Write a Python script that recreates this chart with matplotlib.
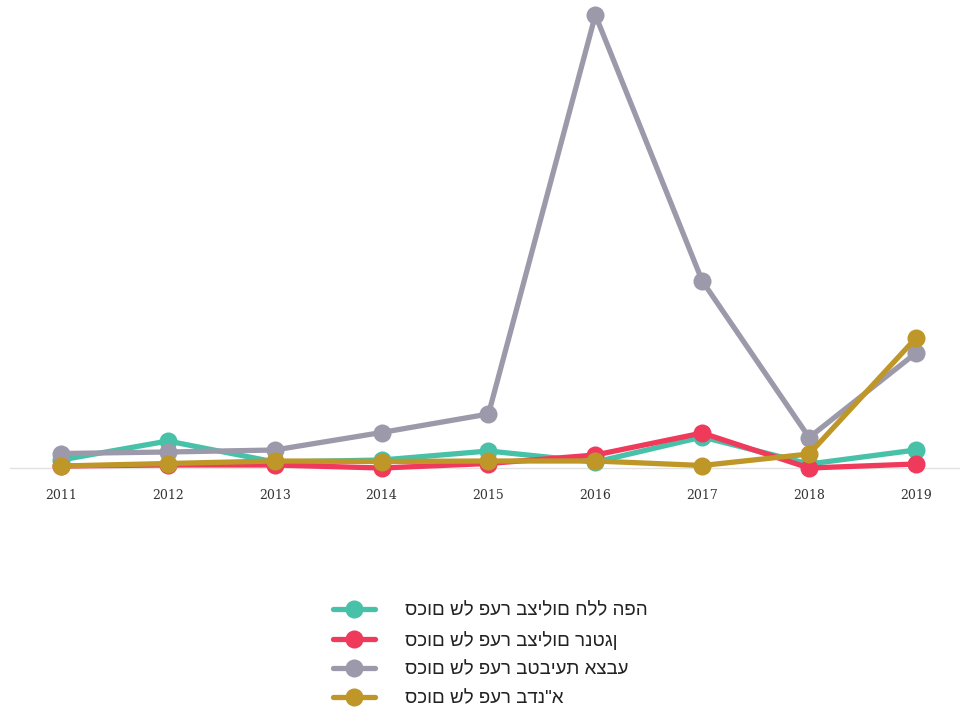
import matplotlib
matplotlib.use("Agg")
from matplotlib import pyplot as plt

years = [2011, 2012, 2013, 2014, 2015, 2016, 2017, 2018, 2019]

# gap sums per series (arbitrary units - no y axis shown)
oral_cavity_xray = [8, 27, 6, 8, 17, 6, 31, 4, 18]
xray = [2, 3, 3, 0, 4.5, 13, 35, 0, 4]
fingerprint = [14.5, 16, 18, 35.5, 54, 453, 187, 30.5, 115]
dna = [2, 4.5, 7, 6.5, 7, 7, 2.5, 14, 130]

labels = [
    "סכום של פער בצילום חלל הפה",
    "סכום של פער בצילום רנטגן",
    "סכום של פער בטביעת אצבע",
    "סכום של פער בדנ\"א",
]
colors = ["#47C2A9", "#F03A5C", "#9C9AAA", "#BF9628"]

fig = plt.figure(figsize=(9.6, 7.08), dpi=100)
ax = fig.add_axes([10 / 960, 240 / 708, 950 / 960, 468 / 708])

series = [oral_cavity_xray, xray, fingerprint, dna]
for vals, label, color in zip(series, labels, colors):
    ax.plot(
        years, vals, color=color, linewidth=3.8, marker="o", markersize=13,
        markeredgewidth=0, label=label, clip_on=False, solid_capstyle="round",
    )

ax.set_xlim(2011 - 51 / 106.9, 2019 + 44 / 106.9)
ax.set_ylim(0, 468)
ax.set_xticks(years)
ax.set_xticklabels([str(y) for y in years], fontsize=9, color="#333333",
                   family="DejaVu Serif")
ax.tick_params(axis="x", length=0, pad=15)
ax.set_yticks([])
for side in ["top", "left", "right"]:
    ax.spines[side].set_visible(False)
ax.spines["bottom"].set_color("#e2e2e2")
ax.spines["bottom"].set_linewidth(1)
ax.spines["bottom"].set_zorder(0)

leg = fig.legend(
    loc="upper left", bbox_to_anchor=(333 / 960, 1 - 602 / 708),
    frameon=False, numpoints=1, handlelength=2.25, handletextpad=1.6,
    labelspacing=0.62, borderpad=0, borderaxespad=0,
    prop={"family": ["Liberation Sans", "DejaVu Sans"], "size": 13.5},
)
for t in leg.get_texts():
    t.set_color("#222222")

fig.savefig("out.png", dpi=100)
